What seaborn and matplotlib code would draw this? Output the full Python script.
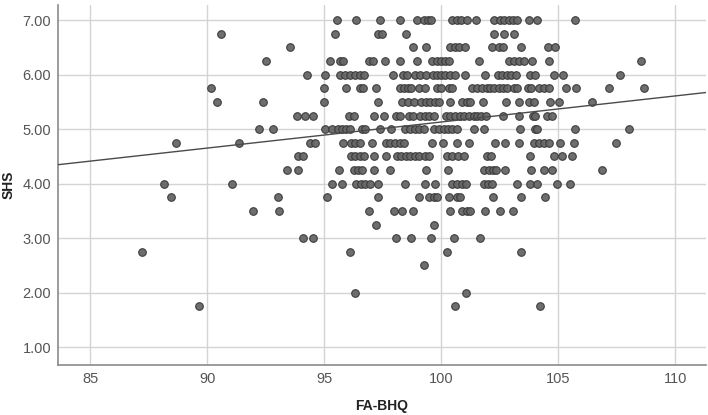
import numpy as np
import pandas as pd
import matplotlib
matplotlib.use('Agg')
import matplotlib.pyplot as plt
import matplotlib.ticker as mticker
import seaborn as sns

# FA-BHQ values, one list per SHS level
fa_700 = [95.54, 96.35, 97.36, 98.25, 98.96, 99.25, 99.43, 99.57, 100.46, 100.67, 100.85, 101.10, 101.48,
          102.24, 102.52, 102.69, 102.88, 103.06, 103.23, 103.73, 104.09, 105.70]
fa_675 = [90.61, 95.48, 97.28, 97.45, 98.50, 102.27, 102.69, 103.12]
fa_650 = [93.52, 98.80, 99.35, 100.38, 100.57, 100.74, 101.00, 102.15, 102.45, 102.64, 103.40, 104.54, 104.87]
fa_625 = [92.51, 95.23, 95.66, 95.80, 96.92, 97.08, 97.61, 98.25, 98.96, 99.60, 99.81, 100.00, 100.17, 100.31,
          101.62, 102.88, 103.09, 103.30, 103.52, 103.87, 104.59, 108.55]
fa_600 = [94.27, 95.03, 95.68, 95.90, 96.11, 96.30, 96.51, 96.68, 97.93, 98.36, 98.53, 98.89, 99.10, 99.35,
          99.63, 99.81, 100.00, 100.17, 100.38, 100.57, 101.00, 101.88, 102.41, 102.59, 102.81, 102.98,
          103.20, 103.77, 104.02, 104.83, 105.20, 107.65]
fa_575 = [90.16, 94.97, 95.91, 96.51, 96.65, 97.22, 98.25, 98.42, 98.56, 98.72, 99.06, 99.32, 99.81, 100.00,
          100.31, 100.46, 101.31, 101.52, 101.74, 101.95, 102.09, 102.26, 102.45, 102.64, 102.81, 103.09,
          103.23, 103.69, 103.83, 104.16, 104.37, 104.59, 105.34, 105.77, 107.17, 108.66]
fa_550 = [90.44, 92.38, 94.98, 97.28, 98.33, 98.56, 98.82, 99.15, 99.35, 99.53, 99.71, 99.92, 100.38, 100.88,
          101.10, 101.24, 101.77, 102.78, 103.30, 103.73, 103.95, 104.66, 105.01, 106.42]
fa_525 = [93.82, 94.16, 94.54, 96.04, 96.25, 97.11, 97.54, 98.08, 98.25, 98.60, 98.78, 99.10, 99.29, 99.49,
          99.67, 100.20, 100.38, 100.57, 100.81, 100.99, 101.20, 101.38, 101.52, 101.71, 101.91, 102.64,
          103.30, 103.92, 104.02, 104.52, 104.73]
fa_500 = [92.22, 92.81, 95.05, 95.31, 95.57, 95.74, 95.91, 96.08, 96.61, 96.72, 97.39, 97.85, 98.46, 98.68,
          98.86, 99.06, 99.25, 99.67, 99.89, 100.10, 100.28, 100.46, 100.67, 101.38, 101.81, 103.35, 104.02,
          104.09, 105.70, 108.02]
fa_475 = [88.66, 91.34, 94.37, 94.60, 95.80, 96.15, 96.30, 96.51, 97.04, 97.65, 97.82, 98.03, 98.25, 98.39,
          99.60, 100.06, 100.67, 101.17, 102.31, 102.74, 103.30, 103.95, 104.16, 104.37, 104.59, 105.09,
          105.66, 107.46]
fa_450 = [93.86, 94.10, 96.14, 96.32, 96.51, 96.71, 97.11, 97.65, 98.11, 98.28, 98.50, 98.67, 98.86, 99.03,
          99.32, 99.49, 100.24, 100.46, 100.71, 100.95, 101.95, 102.14, 103.77, 104.80, 105.16, 105.57]
fa_425 = [93.39, 93.86, 95.63, 96.25, 96.42, 96.61, 97.11, 97.79, 99.35, 100.29, 101.81, 102.02, 102.19,
          102.35, 102.74, 103.83, 104.37, 104.73, 106.87]
fa_400 = [88.15, 91.08, 95.34, 95.77, 96.37, 96.57, 96.75, 96.97, 97.28, 98.46, 99.29, 99.72, 100.46, 100.67,
          100.88, 101.05, 101.81, 101.99, 102.17, 103.23, 103.80, 104.09, 104.94, 105.48]
fa_375 = [88.46, 93.02, 95.12, 97.28, 99.03, 99.49, 99.67, 99.82, 100.31, 100.67, 100.81, 102.19, 103.40, 104.44]
fa_350 = [91.97, 93.06, 96.91, 97.96, 98.32, 98.77, 100.38, 100.88, 101.10, 101.24, 101.85, 102.49, 103.06]
fa_325 = [97.22, 99.67]
fa_300 = [94.10, 94.53, 98.08, 98.70, 99.57, 100.53, 101.67]
fa_275 = [87.21, 96.11, 100.24, 103.40]
fa_250 = [99.25]
fa_200 = [96.31, 101.07]
fa_175 = [89.67, 100.57, 104.20]

shs_levels = [7.00, 6.75, 6.50, 6.25, 6.00, 5.75, 5.50, 5.25, 5.00, 4.75, 4.50, 4.25, 4.00,
              3.75, 3.50, 3.25, 3.00, 2.75, 2.50, 2.00, 1.75]
fa_rows = [fa_700, fa_675, fa_650, fa_625, fa_600, fa_575, fa_550, fa_525, fa_500, fa_475, fa_450,
           fa_425, fa_400, fa_375, fa_350, fa_325, fa_300, fa_275, fa_250, fa_200, fa_175]

x_ticks = [85, 90, 95, 100, 105, 110]
y_ticks = [1, 2, 3, 4, 5, 6, 7]

df = pd.DataFrame({
    'FA-BHQ': [v for row in fa_rows for v in row],
    'SHS': [lvl for lvl, row in zip(shs_levels, fa_rows) for _ in row],
})

sns.set_theme(style='white')
plt.rcParams['font.family'] = ['Liberation Sans', 'DejaVu Sans']

fig = plt.figure(figsize=(7.08, 4.15), dpi=100)
ax = fig.add_axes([0.082, 0.12, 0.915, 0.868])
ax.set_xlim(83.63, 111.3)
ax.set_ylim(0.67, 7.28)
ax.set_xticks(x_ticks)
ax.set_yticks(y_ticks)
ax.grid(True, color='#d4d4d4', linewidth=1.0)
ax.set_axisbelow(True)

sns.scatterplot(data=df, x='FA-BHQ', y='SHS', ax=ax, color='#666666', edgecolor='#383838',
                linewidth=0.8, s=30, alpha=0.95, zorder=3)
sns.regplot(data=df, x='FA-BHQ', y='SHS', ax=ax, scatter=False, ci=None, truncate=False,
            line_kws={'color': '#4a4a4a', 'linewidth': 1.0, 'zorder': 4})

ax.yaxis.set_major_formatter(mticker.FormatStrFormatter('%.2f'))
ax.tick_params(axis='both', length=0, pad=5, labelsize=10.5, labelcolor='#555555')
for side in ['top', 'right']:
    ax.spines[side].set_visible(False)
for side in ['left', 'bottom']:
    ax.spines[side].set_color('#8a8a8a')
    ax.spines[side].set_linewidth(1.2)

ax.set_xlabel('FA-BHQ', fontsize=10, fontweight='bold', color='#222222')
ax.set_ylabel('SHS', fontsize=10, fontweight='bold', color='#222222')
ax.xaxis.set_label_coords(0.5, -0.093)
ax.yaxis.set_label_coords(-0.066, 0.5)
ax.set_xlim(83.63, 111.3)

fig.savefig('out.png', dpi=100)
